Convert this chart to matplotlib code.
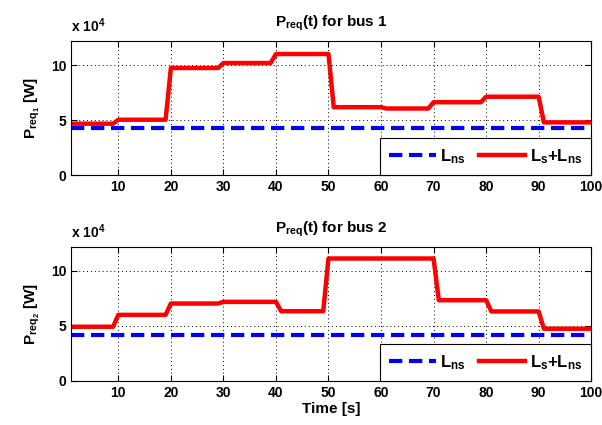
import matplotlib
matplotlib.use('Agg')
import matplotlib.pyplot as plt
from matplotlib.ticker import FuncFormatter

plt.rcParams['font.family'] = ['Liberation Sans', 'DejaVu Sans']
plt.rcParams['font.weight'] = 'bold'
plt.rcParams['axes.labelweight'] = 'bold'
plt.rcParams['axes.titleweight'] = 'bold'
plt.rcParams['font.size'] = 10
plt.rcParams['mathtext.fontset'] = 'custom'
plt.rcParams['mathtext.rm'] = 'Liberation Sans:bold'
plt.rcParams['mathtext.it'] = 'Liberation Sans:bold'
plt.rcParams['mathtext.bf'] = 'Liberation Sans:bold'
plt.rcParams['mathtext.default'] = 'rm'

# breakpoints (time [s]) and demand [W] for each bus
t_bus1 = [1, 9, 10, 19, 20, 29, 30, 39, 40, 50, 51, 60, 61, 69, 70, 79, 80, 90, 91, 100]
p_bus1 = [46700, 46700, 50300, 50300, 97300, 97300, 101800, 101800, 110000, 110000,
          61700, 61700, 60500, 60500, 66200, 66200, 71200, 71200, 47900, 47900]
t_bus2 = [1, 9, 10, 19, 20, 29, 30, 40, 41, 49, 50, 70, 71, 80, 81, 90, 91, 100]
p_bus2 = [49100, 49100, 59900, 59900, 70200, 70200, 71700, 71700, 63200, 63200,
          111100, 111100, 73200, 73200, 63000, 63000, 47300, 47300]
lns_bus1 = 42500
lns_bus2 = 41500

xticks = [10, 20, 30, 40, 50, 60, 70, 80, 90, 100]
yticks = [0, 50000, 100000]

fig = plt.figure(figsize=(6.02, 4.25), dpi=100)
ax1 = fig.add_axes([0.118, 0.588, 0.864, 0.316])
ax2 = fig.add_axes([0.118, 0.104, 0.864, 0.316])

panels = [(ax1, t_bus1, p_bus1, lns_bus1, 1), (ax2, t_bus2, p_bus2, lns_bus2, 2)]
for ax, t, p, lns, k in panels:
    ax.plot([1, 100], [lns, lns], color='#0000ff', linestyle=(0, (3.2, 1.6)), linewidth=3,
            label=r'L$_{ns}$')
    ax.plot(t, p, color='#ff0000', linewidth=3.2, label=r'L$_s$+L$_{ns}$')
    ax.set_xlim(1, 100)
    ax.set_ylim(0, 122000)
    ax.set_xticks(xticks)
    ax.set_yticks(yticks)
    ax.yaxis.set_major_formatter(FuncFormatter(lambda v, pos: '%d' % round(v / 1e4)))
    ax.grid(True, color='black', linestyle=(0, (1, 3)), linewidth=0.7)
    ax.tick_params(direction='in', top=True, right=True, labelsize=10, length=4)
    for s in ax.spines.values():
        s.set_linewidth(0.8)
    ax.set_title(r'P$_{req}$(t) for bus %d' % k, fontsize=11, pad=10)
    ax.set_ylabel(r'P$_{req_%d}$ [W]' % k, fontsize=11, labelpad=6)
    ax.text(0.0, 1.04, r'x 10$^4$', transform=ax.transAxes, fontsize=10, ha='left', va='bottom')
    leg = ax.legend(loc='lower right', ncol=2, fontsize=12, frameon=True, fancybox=False,
                    borderaxespad=0, borderpad=0.55, handlelength=2.8, handletextpad=0.25,
                    columnspacing=0.8, edgecolor='black', framealpha=1)
    leg.get_frame().set_linewidth(0.8)

ax2.set_xlabel('Time [s]', fontsize=11, labelpad=2)

fig.savefig('out.png', dpi=100)
